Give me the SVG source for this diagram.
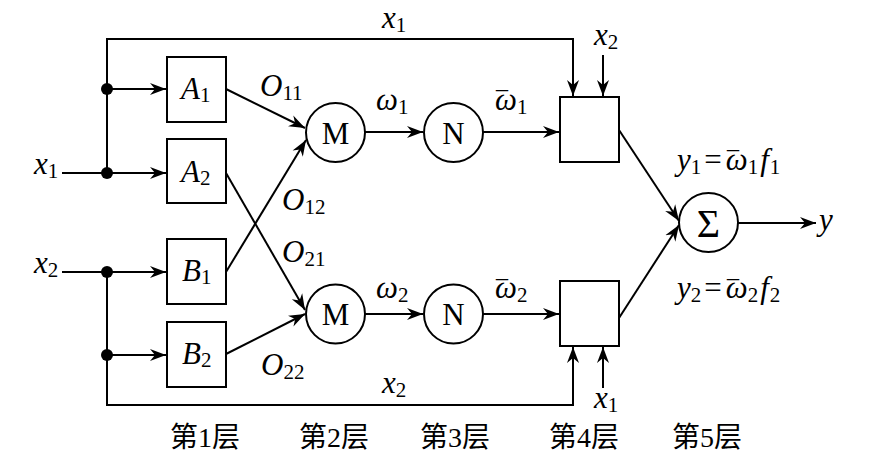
<svg xmlns="http://www.w3.org/2000/svg" width="888" height="458" viewBox="0 0 888 458">
<style>
.ln{fill:none;stroke:#000;stroke-width:2}
.ar{marker-end:url(#arw)}
.nd{fill:#fff;stroke:#000;stroke-width:2}
.t{font-family:"Liberation Serif","Times New Roman",serif;font-size:31px;fill:#000}
.i{font-style:italic}
.s{font-size:21px;font-style:normal}
.mc{font-size:24px;font-style:normal}
.cn{font-family:"Liberation Serif","Noto Sans CJK SC",serif;font-size:28px;fill:#000;text-anchor:middle}
.c{text-anchor:middle}
</style>
<defs>
<marker id="arw" viewBox="-16 -6.5 17 13" refX="0" refY="0" markerWidth="17" markerHeight="13" markerUnits="userSpaceOnUse" orient="auto">
<path d="M0,0 L-16,-6 L-11,0 L-16,6 Z" fill="#000"/>
</marker>
</defs>
<rect width="888" height="458" fill="#fff"/>
<g id="connectors">
<path class="ln ar" d="M62,173 H166"/>
<path class="ln ar" d="M107,173 V39 H573 V96"/>
<path class="ln ar" d="M107,89 H166"/>
<path class="ln ar" d="M62,272 H166"/>
<path class="ln ar" d="M107,272 V405 H573 V347"/>
<path class="ln ar" d="M107,355 H166"/>
<path class="ln ar" d="M226,89 L305,128"/>
<path class="ln ar" d="M226,173 L305,310"/>
<path class="ln ar" d="M226,272 L306,140"/>
<path class="ln ar" d="M226,354 L305,314"/>
<path class="ln ar" d="M365,132 H423"/>
<path class="ln ar" d="M483,132 H559"/>
<path class="ln ar" d="M365,314 H423"/>
<path class="ln ar" d="M483,314 H559"/>
<path class="ln ar" d="M603,55 V96"/>
<path class="ln ar" d="M603,388 V347"/>
<path class="ln ar" d="M619,130 L679,221"/>
<path class="ln ar" d="M619,318 L679,225"/>
<path class="ln ar" d="M738,223 H816"/>
<circle cx="107" cy="89" r="6"/>
<circle cx="107" cy="173" r="6"/>
<circle cx="107" cy="272" r="6"/>
<circle cx="107" cy="355" r="6"/>
</g>
<g id="A1"><rect class="nd" x="167" y="57" width="59" height="65"/><text class="t i" x="181" y="99">A<tspan class="s" dy="3">1</tspan></text></g>
<g id="A2"><rect class="nd" x="167" y="139" width="59" height="64"/><text class="t i" x="181" y="182">A<tspan class="s" dy="3">2</tspan></text></g>
<g id="B1"><rect class="nd" x="167" y="239" width="59" height="65"/><text class="t i" x="182" y="281">B<tspan class="s" dy="3">1</tspan></text></g>
<g id="B2"><rect class="nd" x="167" y="322" width="59" height="65"/><text class="t i" x="182" y="364">B<tspan class="s" dy="3">2</tspan></text></g>
<g id="M1"><circle class="nd" cx="335.5" cy="132.5" r="29.5"/><text class="t c" x="335.5" y="143.5">M</text></g>
<g id="M2"><circle class="nd" cx="335.5" cy="314" r="29.5"/><text class="t c" x="335.5" y="325">M</text></g>
<g id="N1"><circle class="nd" cx="453.5" cy="132.5" r="29.5"/><text class="t c" x="453.5" y="143.5">N</text></g>
<g id="N2"><circle class="nd" cx="453.5" cy="314" r="29.5"/><text class="t c" x="453.5" y="325">N</text></g>
<g id="P1"><rect class="nd" x="560" y="97" width="59" height="65"/></g>
<g id="P2"><rect class="nd" x="560" y="281" width="59" height="65"/></g>
<g id="S"><circle class="nd" cx="708.5" cy="222.5" r="29.5"/><text class="t c" x="708.5" y="237" style="font-size:40px">Σ</text></g>
<g id="labels">
<text class="t i" x="34" y="174">x<tspan class="s" dy="4">1</tspan></text>
<text class="t i" x="34" y="273">x<tspan class="s" dy="4">2</tspan></text>
<text class="t i" x="382" y="28">x<tspan class="s" dy="4">1</tspan></text>
<text class="t i" x="594" y="45">x<tspan class="s" dy="4">2</tspan></text>
<text class="t i" x="382" y="393">x<tspan class="s" dy="4">2</tspan></text>
<text class="t i" x="594" y="408">x<tspan class="s" dy="4">1</tspan></text>
<text class="t i" x="260" y="96">O<tspan class="s" dy="4">11</tspan></text>
<text class="t i" x="282" y="210">O<tspan class="s" dy="4">12</tspan></text>
<text class="t i" x="282" y="262">O<tspan class="s" dy="4">21</tspan></text>
<text class="t i" x="261" y="375">O<tspan class="s" dy="4">22</tspan></text>
<text class="t i" x="376" y="110">ω<tspan class="s" dy="4">1</tspan></text>
<text class="t i" x="376" y="298">ω<tspan class="s" dy="4">2</tspan></text>
<text class="t i" x="495" y="110"><tspan class="mc" x="496" y="108">¯</tspan><tspan x="495" y="110">ω</tspan><tspan class="s" dy="4">1</tspan></text>
<text class="t i" x="495" y="298"><tspan class="mc" x="496" y="297">¯</tspan><tspan x="495" y="298">ω</tspan><tspan class="s" dy="4">2</tspan></text>
<text class="t i" x="677" y="170">y<tspan class="s" dy="4">1</tspan><tspan dx="3" dy="-4" font-style="normal">=</tspan><tspan dx="4">ω</tspan><tspan class="s" dy="4">1</tspan><tspan dx="2" dy="-4">f</tspan><tspan class="s" dx="1" dy="4">1</tspan><tspan class="mc" x="727" y="168">¯</tspan></text>
<text class="t i" x="677" y="298">y<tspan class="s" dy="4">2</tspan><tspan dx="3" dy="-4" font-style="normal">=</tspan><tspan dx="4">ω</tspan><tspan class="s" dy="4">2</tspan><tspan dx="2" dy="-4">f</tspan><tspan class="s" dx="1" dy="4">2</tspan><tspan class="mc" x="727" y="297">¯</tspan></text>
<text class="t i" x="819" y="230">y</text>
<text class="cn" x="205" y="447">第1层</text>
<text class="cn" x="334" y="447">第2层</text>
<text class="cn" x="455" y="447">第3层</text>
<text class="cn" x="584" y="447">第4层</text>
<text class="cn" x="707" y="447">第5层</text>
</g>
</svg>
